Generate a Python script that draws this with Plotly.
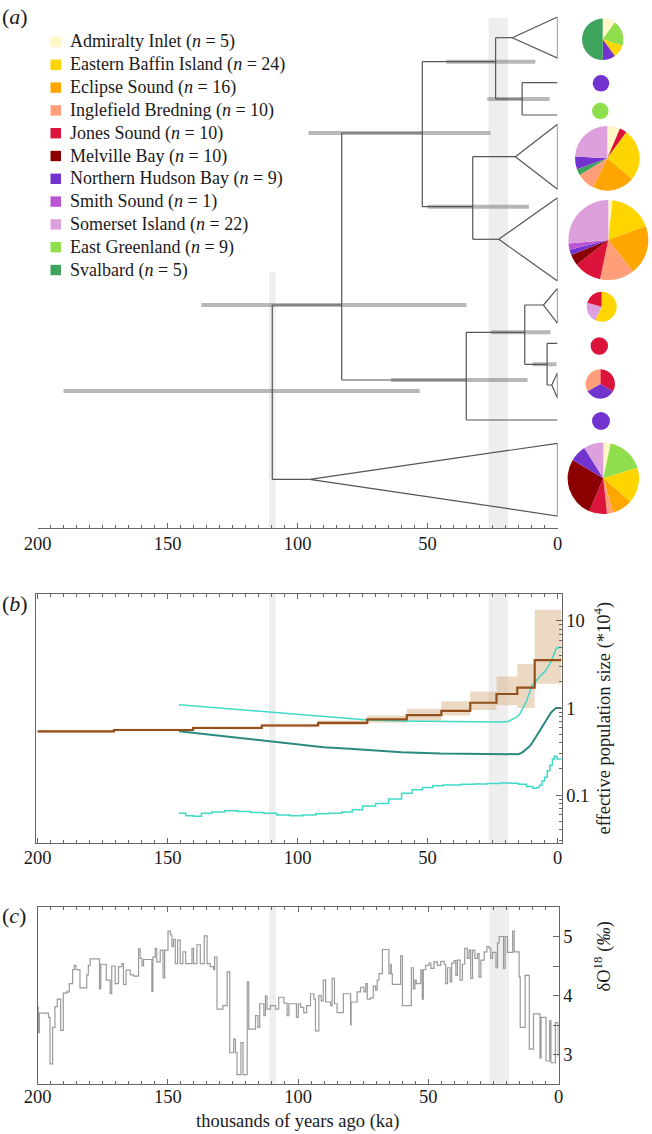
import plotly.graph_objects as go

W, H = 652, 1134
SERIF = "Liberation Serif"
FS = 18.5

# ---------------- data ----------------
populations = ["Admiralty Inlet", "Eastern Baffin Island", "Eclipse Sound", "Inglefield Bredning",
               "Jones Sound", "Melville Bay", "Northern Hudson Bay", "Smith Sound",
               "Somerset Island", "East Greenland", "Svalbard"]
sample_sizes = [5, 24, 16, 10, 10, 10, 9, 1, 22, 9, 5]
pop_colors = ["#FFF7C6", "#FFD500", "#FFA500", "#FF9F7A", "#DC143C", "#8B0000",
              "#7233CF", "#BA55D3", "#DDA0DD", "#8FDF4C", "#3DA35D"]

# tree: node ages (ka) and 95% HPD intervals
node_names = ["root", "C", "B", "A", "P", "D", "E", "G", "H", "T1", "T3", "T4", "T5", "T6", "T7"]
node_ages = [109.7, 83.0, 52.0, 23.8, 13.6, 32.6, 35.1, 12.6, 4.0, 17.4, 16.2, 22.6, 5.4, 2.2, 95.3]
hpd_nodes = ["root", "C", "B", "A", "P", "D", "E", "G", "H"]
hpd_low = [53.0, 35.0, 25.8, 8.5, 3.0, 11.0, 11.5, 2.7, 0.4]
hpd_high = [190.0, 137.0, 95.8, 42.8, 27.0, 50.0, 64.0, 25.5, 9.6]

# pie charts at the tips (population composition, clockwise from 12 o'clock)
pie_tips = ["T1", "tNHB1", "tEG1", "T3", "T4", "T5", "tJS", "T6", "tNHB2", "T7"]
pie_labels = [
    ["Admiralty Inlet", "East Greenland", "Eastern Baffin Island", "Northern Hudson Bay", "Svalbard"],
    ["Northern Hudson Bay"],
    ["East Greenland"],
    ["Admiralty Inlet", "Jones Sound", "Eastern Baffin Island", "Eclipse Sound", "Inglefield Bredning",
     "Svalbard", "Northern Hudson Bay", "Somerset Island"],
    ["Admiralty Inlet", "Eastern Baffin Island", "Eclipse Sound", "Inglefield Bredning", "Jones Sound",
     "Melville Bay", "Northern Hudson Bay", "Smith Sound", "Somerset Island"],
    ["Eastern Baffin Island", "Somerset Island", "Jones Sound"],
    ["Jones Sound"],
    ["Jones Sound", "Northern Hudson Bay", "Inglefield Bredning"],
    ["Northern Hudson Bay"],
    ["Admiralty Inlet", "East Greenland", "Eastern Baffin Island", "Eclipse Sound", "Inglefield Bredning",
     "Jones Sound", "Melville Bay", "Northern Hudson Bay", "Somerset Island"],
]
pie_values = [
    [1, 2, 1, 1, 5],
    [1],
    [1],
    [23, 13, 94, 76, 33, 11, 23, 87],
    [6, 64, 72, 50, 40, 16, 8, 9, 95],
    [205, 80, 75],
    [1],
    [1, 1, 1],
    [1],
    [12, 61, 58, 33, 10, 29, 98, 27, 32],
]

# panel b: Bayesian skyline (median + 95% envelope), step starts in ka
bsp_time = [200, 170.6, 140.2, 113.8, 92.1, 73.2, 58.0, 44.7, 33.6, 23.5, 15.5, 8.8, -1.5]
bsp_median = [0.54, 0.56, 0.59, 0.63, 0.675, 0.74, 0.83, 0.93, 1.15, 1.45, 1.72, 3.55, 3.55]
bsp_lower = [0.52, 0.54, 0.57, 0.60, 0.64, 0.68, 0.72, 0.82, 0.95, 1.08, 1.0, 1.9, 1.9]
bsp_upper = [0.56, 0.58, 0.62, 0.66, 0.72, 0.82, 0.98, 1.2, 1.55, 2.3, 3.2, 13.5, 13.5]

# panel b: second Ne reconstruction (median and 95% bounds)
ne_up_time = [145.6, 130, 120, 110, 100, 90, 80, 73, 60, 45.6, 30, 22.5, 19, 17.8, 16, 14.6, 13.4,
              12.2, 11, 9.9, 8.5, 6.7, 5, 3.6, 2.5, 1.2, 0.4, -1.5]
ne_up = [1.09, 1.0, 0.94, 0.89, 0.84, 0.79, 0.75, 0.73, 0.71, 0.70, 0.69, 0.69, 0.70, 0.73, 0.78,
         0.85, 0.98, 1.16, 1.45, 1.8, 2.0, 2.33, 2.6, 3.0, 3.4, 4.3, 4.9, 5.0]
ne_med_time = [145.6, 130, 120, 110, 100, 90, 80, 73, 60, 45, 30, 22, 15, 13.5, 12.5, 11.5, 10.5,
               9.5, 8.5, 7.5, 6.5, 5.5, 4.5, 3.5, 2.5, 1.5, 0.5, -1.5]
ne_med = [0.54, 0.48, 0.44, 0.41, 0.38, 0.355, 0.34, 0.33, 0.31, 0.30, 0.295, 0.295, 0.295, 0.31,
          0.33, 0.35, 0.37, 0.41, 0.46, 0.52, 0.58, 0.65, 0.72, 0.80, 0.89, 0.95, 1.0, 1.0]
ne_low_time = [145.6, 143, 140, 137, 133, 128, 123, 118, 113, 108, 103, 98, 93, 88, 83, 79, 75, 70,
               65, 60, 56, 52, 48, 44, 37, 32, 27, 22, 18, 15, 12, 9.5, 8, 7, 6, 5, 4, 3, 2, 1.3,
               0.8, 0.2, -1.5]
ne_low = [0.062, 0.058, 0.057, 0.062, 0.064, 0.066, 0.065, 0.063, 0.062, 0.059, 0.058, 0.059, 0.061,
          0.062, 0.064, 0.068, 0.075, 0.08, 0.09, 0.105, 0.115, 0.122, 0.128, 0.131, 0.133, 0.134,
          0.136, 0.138, 0.137, 0.133, 0.126, 0.12, 0.122, 0.13, 0.145, 0.16, 0.19, 0.22, 0.26, 0.28,
          0.275, 0.26, 0.26]

# panel c: benthic delta O18 stack (step starts in ka, value in permil)
d18_time = [200.0, 199.7, 199.3, 195.8, 195.2, 194.2, 193.3, 192.4, 191.1, 190.1, 188.8, 187.8,
            186.5, 185.9, 185.2, 183.7, 181.1, 180.5, 179.8, 176.2, 175.7, 173.6, 172.1, 171.5,
            170.2, 168.9, 167.6, 167.0, 166.0, 164.4, 163.1, 161.2, 160.6, 159.9, 159.3, 156.1,
            155.7, 154.8, 154.2, 152.9, 151.8, 151.2, 149.9, 149.0, 148.4, 147.8, 147.1, 146.2,
            145.2, 144.2, 143.1, 140.7, 140.1, 138.8, 137.5, 136.0, 134.9, 133.7, 132.4, 132.0,
            131.1, 128.8, 127.2, 126.2, 124.7, 124.0, 123.4, 121.9, 121.1, 119.5, 118.9, 116.3,
            115.4, 114.7, 113.1, 112.5, 111.9, 110.6, 108.6, 107.4, 105.4, 104.2, 103.5, 100.6,
            99.9, 99.0, 97.8, 96.7, 95.2, 93.9, 93.3, 92.0, 91.1, 90.3, 89.4, 87.5, 86.9, 86.0,
            85.0, 82.6, 79.8, 79.6, 77.3, 76.0, 74.7, 74.0, 73.4, 72.1, 71.1, 70.2, 69.6, 68.9,
            67.6, 65.1, 64.4, 64.2, 63.8, 60.6, 59.9, 56.5, 55.7, 55.1, 54.6, 52.9, 52.3, 51.9,
            51.0, 49.7, 49.0, 47.8, 46.5, 45.2, 43.9, 43.3, 42.6, 41.6, 41.0, 40.1, 39.4, 38.8,
            37.8, 36.9, 36.0, 35.0, 34.3, 33.7, 33.0, 32.1, 31.1, 30.5, 29.8, 28.5, 27.5, 26.6,
            26.0, 25.3, 24.0, 23.4, 22.8, 21.5, 21.1, 20.5, 19.6, 17.6, 17.0, 15.1, 14.7, 12.8,
            11.2, 9.6, 7.1, 6.7, 4.8, 3.4, 2.9, 1.2, 0.1, 0.0]
d18_value = [3.80, 3.37, 3.70, 3.63, 2.84, 3.46, 3.81, 3.94, 3.41, 4.04, 4.06, 4.20,
             4.44, 4.51, 4.44, 4.13, 4.35, 4.51, 4.62, 4.11, 4.53, 4.26, 4.03, 4.50,
             4.20, 4.49, 4.54, 4.19, 4.43, 4.35, 4.33, 4.79, 4.63, 4.50, 4.61, 4.07,
             4.65, 4.80, 4.57, 4.77, 4.30, 4.77, 5.09, 5.03, 4.83, 4.95, 4.54, 4.94,
             4.54, 4.74, 4.54, 4.80, 4.54, 4.86, 4.54, 5.01, 4.54, 4.49, 4.44, 4.65,
             3.77, 3.83, 4.40, 3.03, 3.26, 3.03, 2.66, 3.20, 2.66, 4.23, 3.43, 3.66,
             3.46, 3.86, 3.66, 3.99, 3.77, 3.83, 3.77, 3.97, 3.87, 3.66, 3.86, 3.63,
             3.86, 3.80, 3.71, 3.83, 4.03, 3.94, 3.40, 4.00, 3.91, 4.26, 3.89, 3.83, 4.29, 3.86,
             3.71, 4.03, 3.50, 3.89, 4.06, 4.14, 4.06, 4.20, 3.94, 3.96, 4.16, 4.09, 4.26, 4.37,
             4.78, 4.37, 4.53, 4.37, 4.19, 4.67, 3.83, 4.47, 4.11, 4.26, 4.20, 4.43, 3.94, 4.44,
             4.51, 4.55, 4.46, 4.57, 4.51, 4.58, 4.53, 4.20, 4.47, 4.23, 4.55, 4.59, 4.34, 4.60,
             4.26, 4.53, 4.80, 4.63, 4.77, 4.29, 4.77, 4.63, 4.71, 4.31, 4.60, 4.74, 4.83, 4.80,
             4.63, 4.73, 4.47, 4.89, 5.00, 5.00, 4.46, 5.00, 4.73, 5.09, 4.74, 4.31, 3.46, 4.34,
             3.09, 3.69, 2.94, 3.63, 2.89, 3.57, 2.86, 3.54, 2.97, 2.97]

# highlighted periods (ka)
bands = [(111.0, 108.5), (26.5, 19.0)]

# ---------------- layout helpers (pixel positions) ----------------
def px(x):
    return x / W

def py(y):
    return 1 - y / H

A_BOTTOM = 528  # panel a axis line (pixels)

ypos = {"root": 391, "C": 305, "B": 133, "A": 61.7, "P": 99, "D": 206.7, "E": 380, "G": 332.3,
        "H": 364.3, "T1": 37.7, "tNHB1": 82.7, "tEG1": 115, "T3": 156.7, "T4": 239.3, "T5": 305,
        "tJS": 343.3, "T6": 385, "tNHB2": 420, "T7": 479.3}
children = {"root": ["C", "T7"], "C": ["B", "E"], "B": ["A", "D"], "A": ["T1", "P"],
            "P": ["tNHB1", "tEG1"], "D": ["T3", "T4"], "E": ["G", "tNHB2"], "G": ["T5", "H"],
            "H": ["tJS", "T6"]}
clade_span = {"T1": (17, 58), "T3": (124.3, 189.3), "T4": (197.7, 281), "T5": (288.3, 323.3),
              "T6": (372.7, 398.3), "T7": (443.3, 516)}
pie_center = {"T1": (602.7, 39.3, 20.7), "tNHB1": (601, 83.3, 8.3), "tEG1": (600.3, 111, 8.3),
              "T3": (607.3, 158.3, 32.3), "T4": (608.3, 240, 40), "T5": (601.7, 306.7, 15),
              "tJS": (599.3, 346, 8.7), "T6": (600.3, 384, 14.7), "tNHB2": (601, 421, 9),
              "T7": (603.3, 478.3, 35.7)}

age = dict(zip(node_names, node_ages))
def node_age(n):
    return age.get(n, 0.0)

fig = go.Figure()

# ---- panel a: tree ----
tx, ty = [], []
for parent, kids in children.items():
    a = node_age(parent)
    ys = [ypos[k] for k in kids] + [ypos[parent]]
    tx += [a, a, None]
    ty += [min(ys), max(ys), None]
    for k in kids:
        tx += [a, node_age(k), None]
        ty += [ypos[k], ypos[k], None]
for c, (top, bot) in clade_span.items():
    a = node_age(c)
    tx += [0, a, 0, 0, None]
    ty += [top, ypos[c], bot, top, None]

ex, ey = [], []
for n, lo, hi in zip(hpd_nodes, hpd_low, hpd_high):
    ex += [hi, lo, None]
    ey += [ypos[n], ypos[n], None]
fig.add_trace(go.Scatter(x=ex, y=ey, mode="lines", line=dict(color="rgba(125,125,125,0.55)", width=4),
                         hoverinfo="skip", xaxis="x", yaxis="y"))
fig.add_trace(go.Scatter(x=tx, y=ty, mode="lines", line=dict(color="#555555", width=1.2),
                         hoverinfo="skip", xaxis="x", yaxis="y"))

color_of = dict(zip(populations, pop_colors))
for tip, labs, vals in zip(pie_tips, pie_labels, pie_values):
    cx, cy, r = pie_center[tip]
    fig.add_trace(go.Pie(labels=labs, values=vals, sort=False, direction="clockwise", rotation=0,
                         marker=dict(colors=[color_of[l] for l in labs], line=dict(width=0)),
                         textinfo="none", hoverinfo="label+value", showlegend=False,
                         domain=dict(x=[px(cx - r), px(cx + r)], y=[py(cy + r), py(cy - r)])))

# ---- panel b ----
fig.add_trace(go.Scatter(x=bsp_time, y=bsp_lower, mode="lines", line=dict(width=0, shape="hv"),
                         hoverinfo="skip", xaxis="x2", yaxis="y2"))
fig.add_trace(go.Scatter(x=bsp_time, y=bsp_upper, mode="lines", line=dict(width=0, shape="hv"),
                         fill="tonexty", fillcolor="rgba(212,170,125,0.45)", hoverinfo="skip",
                         xaxis="x2", yaxis="y2"))
fig.add_trace(go.Scatter(x=ne_up_time, y=ne_up, mode="lines", line=dict(color="#40D9C8", width=1.5),
                         xaxis="x2", yaxis="y2"))
fig.add_trace(go.Scatter(x=ne_low_time, y=ne_low, mode="lines", line=dict(color="#40D9C8", width=1.5, shape="hv"),
                         xaxis="x2", yaxis="y2"))
fig.add_trace(go.Scatter(x=ne_med_time, y=ne_med, mode="lines", line=dict(color="#2B8A80", width=2),
                         xaxis="x2", yaxis="y2"))
fig.add_trace(go.Scatter(x=bsp_time, y=bsp_median, mode="lines", line=dict(color="#94501C", width=2.2, shape="hv"),
                         xaxis="x2", yaxis="y2"))

# ---- panel c ----
fig.add_trace(go.Scatter(x=d18_time, y=d18_value, mode="lines", line=dict(color="#9A9A9A", width=1.2, shape="hv"),
                         xaxis="x3", yaxis="y3"))

# ---- shaded bands ----
shapes = []
for (x0, x1) in bands:
    top_a = 18 if x0 < 50 else 272
    shapes.append(dict(type="rect", xref="x", yref="y", x0=x0, x1=x1, y0=top_a, y1=A_BOTTOM,
                       fillcolor="#EEEEEE", line_width=0, layer="below"))
    for xr, yr in (("x2", "y2 domain"), ("x3", "y3 domain")):
        shapes.append(dict(type="rect", xref=xr, yref=yr, x0=x0, x1=x1, y0=0, y1=1,
                           fillcolor="#EEEEEE", line_width=0, layer="below"))

# legend (manual)
annotations = []
for i, (name, n, col) in enumerate(zip(populations, sample_sizes, pop_colors)):
    yc = 42 + i * 22.8
    shapes.append(dict(type="rect", xref="paper", yref="paper", x0=px(50.5), x1=px(61),
                       y0=py(yc + 5.2), y1=py(yc - 5.2), fillcolor=col, line_width=0))
    annotations.append(dict(x=px(68), y=py(yc), xref="paper", yref="paper", xanchor="left",
                            yanchor="middle", showarrow=False,
                            text=f"{name} (<i>n</i> = {n})",
                            font=dict(family=SERIF, size=18, color="#1a1a1a")))

for lab, yc in (("a", 16), ("b", 603), ("c", 915)):
    annotations.append(dict(x=px(0), y=py(yc), xref="paper", yref="paper", xanchor="left",
                            yanchor="middle", showarrow=False, text=f"(<i>{lab}</i>)",
                            font=dict(family=SERIF, size=22, color="#1a1a1a")))
annotations.append(dict(x=px(617), y=py(718), xref="paper", yref="paper", showarrow=False,
                        textangle=-90, text="effective population size (*10<sup>4</sup>)",
                        font=dict(family=SERIF, size=FS, color="#1a1a1a")))
annotations.append(dict(x=px(617), y=py(994), xref="paper", yref="paper", showarrow=False,
                        textangle=-90, text="δO<sup>18</sup> (<i>‰</i>)",
                        font=dict(family=SERIF, size=FS, color="#1a1a1a")))
annotations.append(dict(x=px(297), y=0, xref="paper", yref="paper", showarrow=False,
                        yanchor="bottom", text="thousands of years ago (ka)",
                        font=dict(family=SERIF, size=FS, color="#1a1a1a")))

tickfont = dict(family=SERIF, size=FS, color="#1a1a1a")
axline = "#666666"
def xax(standoff):
    return dict(showgrid=False, zeroline=False, showline=True, linecolor=axline, linewidth=1,
                ticks="inside", ticklen=5, tickcolor=axline, dtick=50, tickfont=tickfont,
                ticklabelstandoff=standoff,
                minor=dict(dtick=5, ticks="inside", ticklen=3, tickcolor=axline))

fig.update_layout(
    width=W, height=H, margin=dict(l=0, r=0, t=0, b=0, autoexpand=False),
    paper_bgcolor="white", plot_bgcolor="white",
    showlegend=False, shapes=shapes, annotations=annotations, font=dict(family=SERIF),
    xaxis=dict(domain=[px(37.5), px(557.5)], range=[200, 0], anchor="y", **xax(-1)),
    yaxis=dict(domain=[py(A_BOTTOM), 1], range=[A_BOTTOM, 0], visible=False, anchor="x"),
    xaxis2=dict(domain=[px(35.5), px(561.5)], range=[200.8, -1.5], anchor="y2", mirror="ticks", **xax(-2)),
    yaxis2=dict(domain=[py(843), py(594)], type="log", range=[-1.55, 1.31], anchor="x2", side="right",
                showgrid=False, zeroline=False, showline=True, linecolor=axline, mirror=True,
                ticks="inside", ticklen=6, tickcolor=axline, tickvals=[0.1, 1, 10],
                ticktext=["0.1", "1", "10"], tickfont=tickfont,
                minor=dict(ticks="inside", ticklen=3, tickcolor=axline,
                           tickvals=[0.03, 0.04, 0.05, 0.06, 0.07, 0.08, 0.09, 0.2, 0.3, 0.4, 0.5, 0.6,
                                     0.7, 0.8, 0.9, 2, 3, 4, 5, 6, 7, 8, 9, 20])),
    xaxis3=dict(domain=[px(37.5), px(558.5)], range=[200, 0], anchor="y3", mirror="ticks", **xax(-4)),
    yaxis3=dict(domain=[py(1084), py(907)], range=[2.5, 5.5], anchor="x3", side="right",
                showgrid=False, zeroline=False, showline=True, linecolor=axline, mirror=True,
                ticks="inside", ticklen=6, tickcolor=axline, tickvals=[3, 4, 5],
                ticktext=["3", "4", "5"], tickfont=tickfont,
                minor=dict(ticks="inside", ticklen=6, tickcolor=axline, tickvals=[3.5, 4.5])),
)

fig.write_html("out.html", config={"displayModeBar": False},
               post_script="document.body.style.margin='0';")
